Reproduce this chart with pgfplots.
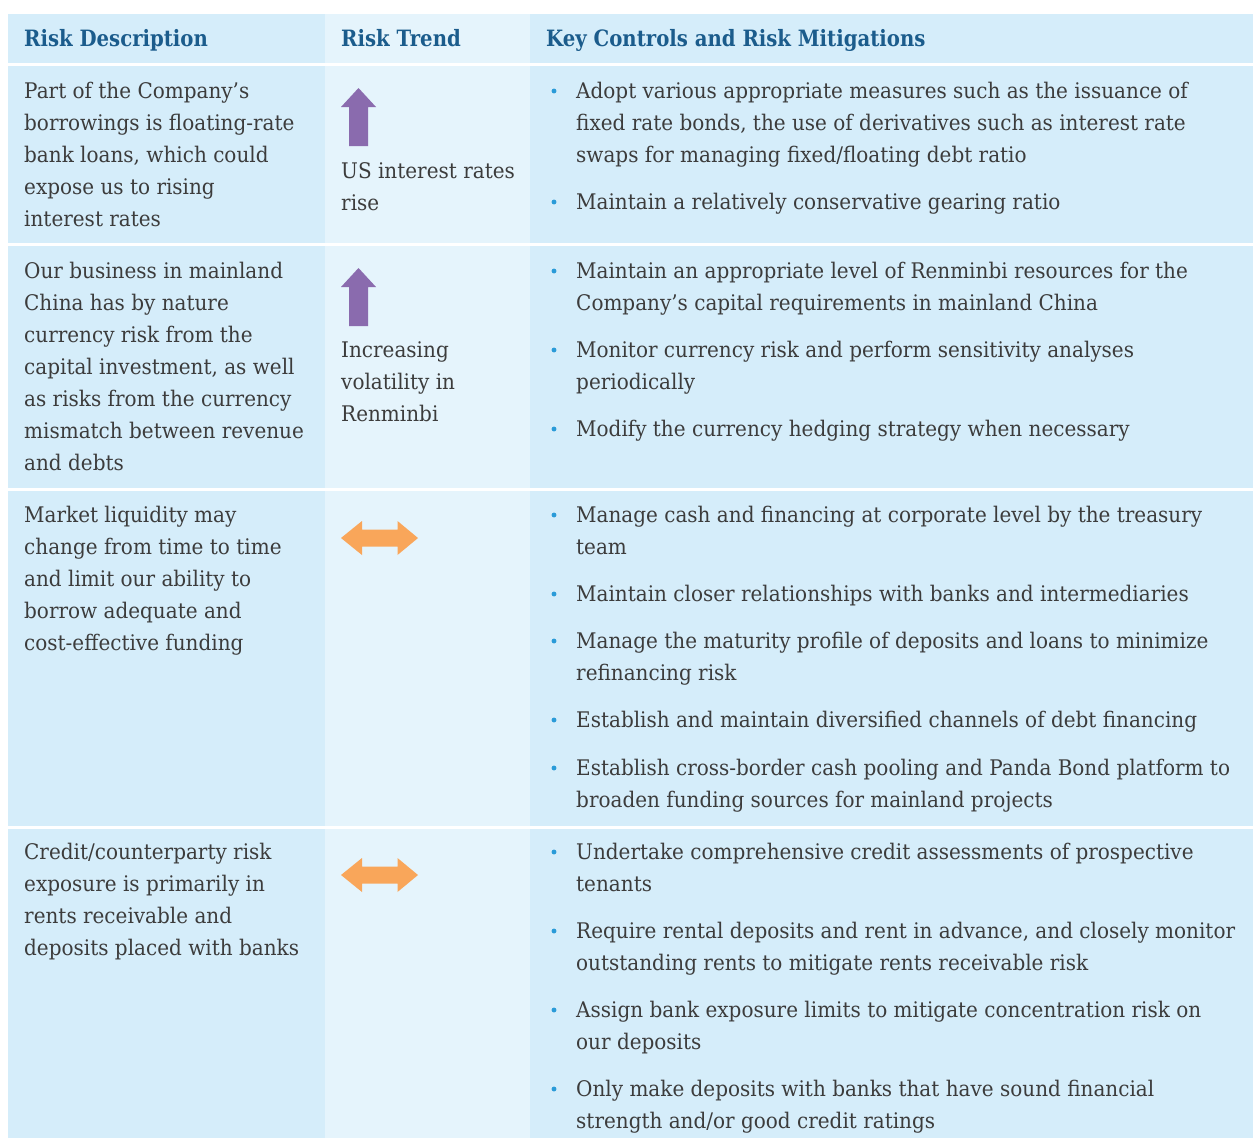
\documentclass[border=0pt]{standalone}
\usepackage{pgfplots}
\pgfplotsset{compat=1.18}
\usepackage{fontspec}
\setmainfont{DejaVu Serif}[FakeStretch=0.93]
\newfontfamily\hdrfam{DejaVu Serif}[FakeStretch=0.875]
\definecolor{bgA}{HTML}{D5EDFA}
\definecolor{bgB}{HTML}{E5F4FC}
\definecolor{hdr}{HTML}{1B5C8C}
\definecolor{txt}{HTML}{3C3C3C}
\definecolor{bul}{HTML}{2A9BD8}
\definecolor{purp}{HTML}{8A6BAE}
\definecolor{orng}{HTML}{F9A65A}
\newcommand{\bodyfont}{\fontsize{21.5}{32}\selectfont}
\newcommand{\hdrfont}{\hdrfam\fontsize{22.5}{32}\selectfont\bfseries}
\newcommand{\TL}[3]{\node[anchor=base west, inner sep=0pt, font=\bodyfont, text=txt] at (axis cs:#1,#2) {#3};}
\newcommand{\HL}[2]{\node[anchor=base west, inner sep=0pt, font=\hdrfont, text=hdr] at (axis cs:#1,46) {#2};}
\newcommand{\RB}[5]{\addplot[fill=#5, draw=none] coordinates {(#1,#2) (#3,#2) (#3,#4) (#1,#4)} -- cycle;}
\begin{document}
\begin{tikzpicture}
\begin{axis}[x=1pt, y=1pt, xmin=0, xmax=1253, ymin=0, ymax=1138, y dir=reverse,
  hide axis, clip=false, scale only axis]
% page
\addplot[fill=white, draw=none] coordinates {(0,0) (1253,0) (1253,1138) (0,1138)} -- cycle;
% backgrounds: header and rows
\RB{8}{14}{325}{63}{bgA}\RB{325}{14}{530}{63}{bgB}\RB{530}{14}{1253}{63}{bgA}
\RB{8}{66}{325}{243}{bgA}\RB{325}{66}{530}{243}{bgB}\RB{530}{66}{1253}{243}{bgA}
\RB{8}{246}{325}{488}{bgA}\RB{325}{246}{530}{488}{bgB}\RB{530}{246}{1253}{488}{bgA}
\RB{8}{491}{325}{826}{bgA}\RB{325}{491}{530}{826}{bgB}\RB{530}{491}{1253}{826}{bgA}
\RB{8}{829}{325}{1138}{bgA}\RB{325}{829}{530}{1138}{bgB}\RB{530}{829}{1253}{1138}{bgA}
% arrows (up)
\addplot[fill=purp, draw=none] coordinates {(358.5,88) (376,107) (368,107) (368,146) (349,146) (349,107) (341,107)} -- cycle;
\addplot[fill=purp, draw=none] coordinates {(358.5,268) (376,287) (368,287) (368,326) (349,326) (349,287) (341,287)} -- cycle;
% double arrows
\addplot[fill=orng, draw=none] coordinates {(341,538) (362,521) (362,529.5) (397.5,529.5) (397.5,521) (418,538) (397.5,555) (397.5,546.5) (362,546.5) (362,555)} -- cycle;
\addplot[fill=orng, draw=none] coordinates {(341,875) (362,858) (362,866.5) (397.5,866.5) (397.5,858) (418,875) (397.5,892) (397.5,883.5) (362,883.5) (362,892)} -- cycle;
% bullets
\addplot[only marks, mark=*, mark size=2.2pt, mark options={fill=bul, draw=bul}] coordinates {
(554,91) (554,202) (554,271) (554,350) (554,429)
(554,515) (554,594) (554,641) (554,720) (554,768)
(554,852) (554,931) (554,1010) (554,1089)};
% header
\HL{24}{Risk Description}
\HL{341}{Risk Trend}
\HL{546}{Key Controls and Risk Mitigations}
% row 1
\TL{24}{98}{Part of the Company's}
\TL{24}{130}{borrowings is floating-rate}
\TL{24}{162}{bank loans, which could}
\TL{24}{194}{expose us to rising}
\TL{24}{226}{interest rates}
\TL{341}{178}{US interest rates}
\TL{341}{210}{rise}
\TL{576}{98}{Adopt various appropriate measures such as the issuance of}
\TL{576}{130}{fixed rate bonds, the use of derivatives such as interest rate}
\TL{576}{162}{swaps for managing fixed/floating debt ratio}
\TL{576}{209}{Maintain a relatively conservative gearing ratio}
% row 2
\TL{24}{278}{Our business in mainland}
\TL{24}{310}{China has by nature}
\TL{24}{342}{currency risk from the}
\TL{24}{374}{capital investment, as well}
\TL{24}{406}{as risks from the currency}
\TL{24}{438}{mismatch between revenue}
\TL{24}{470}{and debts}
\TL{341}{357}{Increasing}
\TL{341}{389}{volatility in}
\TL{341}{421}{Renminbi}
\TL{576}{278}{Maintain an appropriate level of Renminbi resources for the}
\TL{576}{310}{Company's capital requirements in mainland China}
\TL{576}{357}{Monitor currency risk and perform sensitivity analyses}
\TL{576}{389}{periodically}
\TL{576}{436}{Modify the currency hedging strategy when necessary}
% row 3
\TL{24}{522}{Market liquidity may}
\TL{24}{554}{change from time to time}
\TL{24}{586}{and limit our ability to}
\TL{24}{618}{borrow adequate and}
\TL{24}{650}{cost-effective funding}
\TL{576}{522}{Manage cash and financing at corporate level by the treasury}
\TL{576}{554}{team}
\TL{576}{601}{Maintain closer relationships with banks and intermediaries}
\TL{576}{648}{Manage the maturity profile of deposits and loans to minimize}
\TL{576}{680}{refinancing risk}
\TL{576}{727}{Establish and maintain diversified channels of debt financing}
\TL{576}{775}{Establish cross-border cash pooling and Panda Bond platform to}
\TL{576}{807}{broaden funding sources for mainland projects}
% row 4
\TL{24}{859}{Credit/counterparty risk}
\TL{24}{891}{exposure is primarily in}
\TL{24}{923}{rents receivable and}
\TL{24}{955}{deposits placed with banks}
\TL{576}{859}{Undertake comprehensive credit assessments of prospective}
\TL{576}{891}{tenants}
\TL{576}{938}{Require rental deposits and rent in advance, and closely monitor}
\TL{576}{970}{outstanding rents to mitigate rents receivable risk}
\TL{576}{1017}{Assign bank exposure limits to mitigate concentration risk on}
\TL{576}{1049}{our deposits}
\TL{576}{1096}{Only make deposits with banks that have sound financial}
\TL{576}{1128}{strength and/or good credit ratings}
\end{axis}
\end{tikzpicture}
\end{document}
